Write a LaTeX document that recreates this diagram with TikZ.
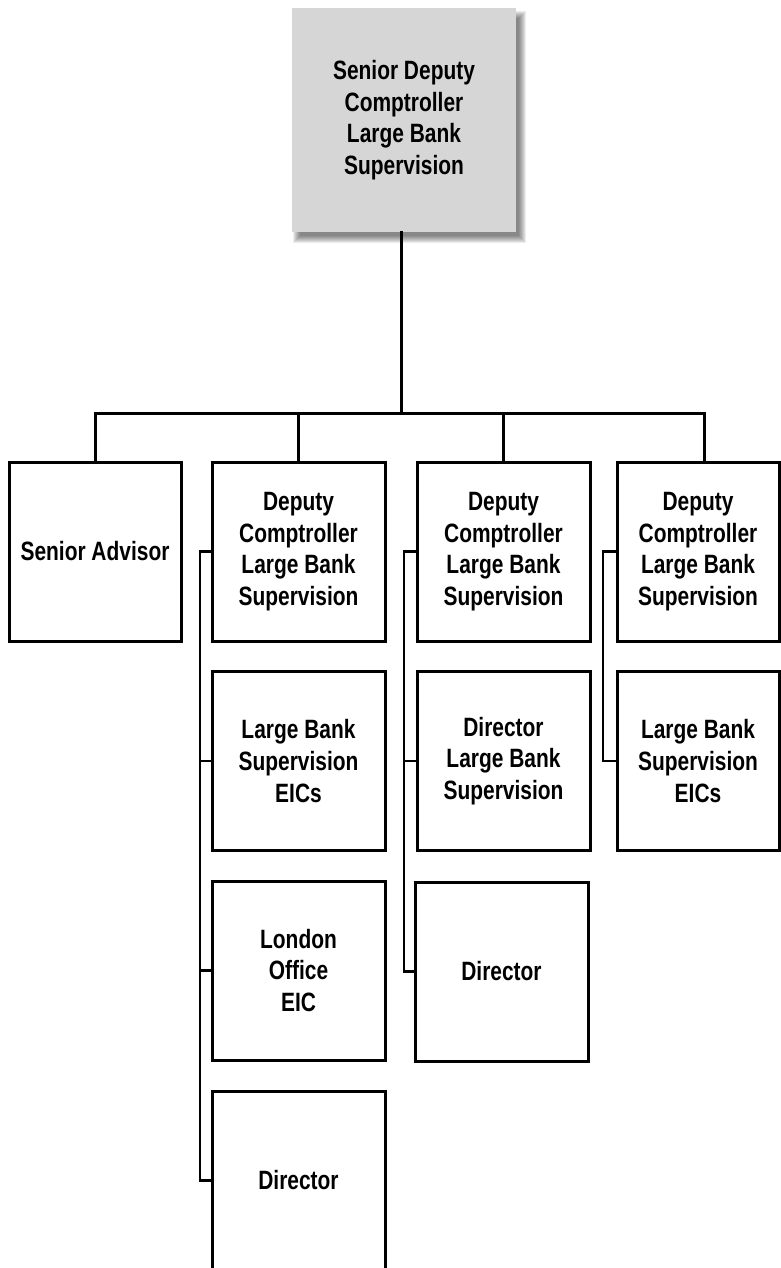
\documentclass[tikz,border=0pt]{standalone}
\usepackage{fontspec}
\setmainfont{Liberation Sans}[FakeStretch=0.79]
\begin{document}
\begin{tikzpicture}[x=1pt,y=-1pt,
  orgbox/.style={draw=black,line width=3pt,fill=white,rectangle,inner sep=0pt,
    minimum height=179pt,align=center,font=\fontsize{26.5}{31.7}\selectfont\bfseries},
  wbox/.style={orgbox,minimum width=173pt},
  topbox/.style={fill=topgray,rectangle,inner sep=0pt,minimum width=224pt,minimum height=224pt,
    align=center,font=\fontsize{26.5}{31.7}\selectfont\bfseries},
  conn/.style={line width=3pt,line cap=rect},
  brk/.style={line width=2.6pt}]
\definecolor{topgray}{HTML}{D6D6D6}
\useasboundingbox (0,0) rectangle (781,1268);
\fill[white] (0,0) rectangle (781,1268);
% shadow
\foreach \s in {-3,-2,...,4}
  \fill[black,opacity=0.075] (297-\s,15-\s) rectangle (522+\s,239+\s);
\node[topbox] (top) at (404,120) {Senior Deputy\\Comptroller\\Large Bank\\Supervision};
% row 1
\node[orgbox,minimum width=172pt] (a1) at (95,551.5) {Senior Advisor};
\node[wbox] (b1) at (298.5,551.5) {Deputy\\Comptroller\\Large Bank\\Supervision};
\node[wbox] (c1) at (503.5,551.5) {Deputy\\Comptroller\\Large Bank\\Supervision};
\node[orgbox,minimum width=162pt] (d1) at (698,551.5) {Deputy\\Comptroller\\Large Bank\\Supervision};
% row 2
\node[wbox] (b2) at (298.5,761) {Large Bank\\Supervision\\EICs};
\node[wbox] (c2) at (503.5,761) {Director\\Large Bank\\Supervision};
\node[orgbox,minimum width=162pt] (d2) at (698,761) {Large Bank\\Supervision\\EICs};
% row 3
\node[wbox] (b3) at (298.5,970.5) {London\\Office\\EIC};
\node[wbox] (c3) at (501.5,971.5) {Director};
% row 4
\node[wbox] (b4) at (298.5,1180.5) {Director};
% bus
\coordinate (bus) at (401,413);
\coordinate (bL) at (95,413);
\coordinate (bR) at (704,413);
\draw[conn] (bus |- top.south) -- (bus);
\draw[conn] (bL) -- (bR);
\draw[conn] (bL) -- (a1.north);
\draw[conn] (b1.north |- bus) -- (b1.north);
\draw[conn] (c1.north |- bus) -- (c1.north);
\draw[conn] (bR) -- (bR |- d1.north);
% brackets
\coordinate (bx) at (200,0);
\coordinate (cx) at (404,0);
\coordinate (dx) at (603,0);
\draw[brk] (b1.west) -- (b1.west -| bx) -- (b4.west -| bx) -- (b4.west);
\draw[brk] (b2.west) -- (b2.west -| bx);
\draw[brk] (b3.west) -- (b3.west -| bx);
\draw[brk] (c1.west) -- (c1.west -| cx) -- (c3.west -| cx) -- (c3.west);
\draw[brk] (c2.west) -- (c2.west -| cx);
\draw[brk] (d1.west) -- (d1.west -| dx) -- (d2.west -| dx) -- (d2.west);
\end{tikzpicture}
\end{document}
